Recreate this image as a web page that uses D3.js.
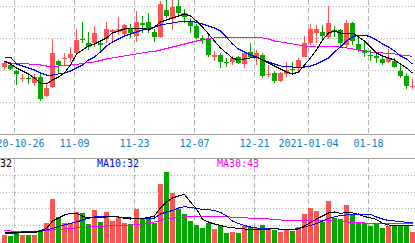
<!DOCTYPE html>
<html>
<head>
<meta charset="utf-8">
<script src="https://cdn.jsdelivr.net/npm/d3@7"></script>
<style>
html, body { margin: 0; padding: 0; background: #fff; overflow: hidden; }
svg { display: block; font-family: "DejaVu Sans Mono", monospace; }
</style>
</head>
<body>
<svg id="chart" width="415" height="243"></svg>
<script>
// trading days shown in the window
const dates = [
    "2020-10-22","2020-10-23","2020-10-26","2020-10-27","2020-10-28","2020-10-29","2020-10-30",
    "2020-11-02","2020-11-03","2020-11-04","2020-11-05","2020-11-06",
    "2020-11-09","2020-11-10","2020-11-11","2020-11-12","2020-11-13",
    "2020-11-16","2020-11-17","2020-11-18","2020-11-19","2020-11-20",
    "2020-11-23","2020-11-24","2020-11-25","2020-11-26","2020-11-27",
    "2020-11-30","2020-12-01","2020-12-02","2020-12-03","2020-12-04",
    "2020-12-07","2020-12-08","2020-12-09","2020-12-10","2020-12-11",
    "2020-12-14","2020-12-15","2020-12-16","2020-12-17","2020-12-18",
    "2020-12-21","2020-12-22","2020-12-23","2020-12-24","2020-12-25",
    "2020-12-28","2020-12-29","2020-12-30","2020-12-31",
    "2021-01-04","2021-01-05","2021-01-06","2021-01-07","2021-01-08",
    "2021-01-11","2021-01-12","2021-01-13","2021-01-14","2021-01-15",
    "2021-01-18","2021-01-19","2021-01-20","2021-01-21","2021-01-22",
    "2021-01-25","2021-01-26","2021-01-27"
];

const open = [
    13.3,13.5,12.9,12.2,12.25,11.7,12.3,10.4,11.3,13.9,
    14.1,14.2,14.7,16.15,15.7,15.7,15.7,16.1,16.8,16.8,
    16.6,17.1,16.4,17.7,17.8,16.8,16.3,19.0,18.1,19.4,
    18.7,17.9,17.4,16.2,16.2,14.3,14.5,13.85,13.8,14.3,
    13.6,14.8,14.3,14.5,12.5,12.7,11.9,12.6,13.1,13.2,
    14.3,15.7,16.7,16.8,16.3,17.0,17.0,15.5,17.7,15.6,
    15.0,14.55,14.4,14.1,13.8,13.9,12.9,12.4,11.4
];
const high = [
    13.9,13.6,13.0,12.6,12.5,12.6,12.6,11.8,16.1,14.0,
    14.7,15.3,17.1,17.8,16.8,17.4,16.0,17.8,17.1,18.3,
    17.6,17.6,18.9,18.4,18.7,17.1,19.9,20.2,20.2,20.2,
    19.1,18.2,17.6,16.5,16.5,14.9,14.7,14.2,14.4,14.4,
    14.8,15.7,15.0,14.7,13.5,12.9,12.8,13.8,13.8,14.2,
    16.4,17.6,17.5,17.5,19.4,17.4,17.1,18.0,17.8,16.2,
    15.8,15.0,14.7,14.4,15.1,14.2,13.6,12.7,12.1
];
const low = [
    13.0,13.0,11.5,11.8,11.6,11.4,9.9,10.3,11.2,12.7,
    13.5,13.8,14.6,15.7,15.0,15.3,14.9,15.7,15.8,16.5,
    16.4,16.2,15.8,16.7,16.7,15.8,16.2,18.2,17.0,18.3,
    17.7,16.7,16.1,15.6,14.3,13.9,13.2,13.3,13.5,13.6,
    13.2,14.2,13.5,12.2,12.3,11.7,11.8,12.2,12.7,12.8,
    14.3,15.5,15.7,16.0,16.1,16.3,15.4,15.3,15.5,14.8,
    14.3,13.9,13.7,13.5,13.7,13.2,12.2,11.1,11.1
];
const close = [
    13.7,13.1,12.6,12.25,12.2,12.3,10.1,11.2,14.7,13.5,
    14.2,14.6,16.0,16.1,15.3,16.7,15.5,17.1,17.0,17.1,
    17.5,16.7,17.8,17.5,17.1,16.3,19.6,18.4,19.3,18.7,
    18.3,17.4,16.2,16.0,14.5,14.5,13.8,13.8,14.2,13.7,
    14.7,14.3,14.7,12.4,12.6,11.9,12.7,13.0,13.0,14.0,
    15.7,17.1,17.1,16.4,17.7,16.8,15.7,17.7,15.9,15.0,
    14.7,14.5,14.2,13.7,14.2,13.3,12.4,11.4,11.45
];

// price moving averages
const ma5 = [
    13.9,13.6,13.2,12.9,12.6,12.2,11.7,11.6,12.0,12.3,
    12.7,13.5,14.6,15.0,15.4,15.6,15.9,16.2,16.7,16.9,
    17.1,17.2,17.2,17.2,17.0,17.3,17.8,18.0,18.2,18.4,
    18.6,18.4,17.9,17.3,16.6,15.9,15.2,14.7,14.2,14.0,
    14.1,14.2,14.3,14.0,13.7,13.4,13.1,12.8,12.6,12.8,
    13.5,14.2,15.0,16.0,16.7,16.9,16.7,16.7,16.7,16.3,
    15.9,15.3,14.7,14.4,14.2,14.0,13.6,13.2,12.7
];
const ma10 = [
    14.3,14.3,13.6,13.4,13.2,13.0,12.7,12.5,12.5,12.6,
    12.7,12.9,13.2,13.5,14.0,14.3,14.8,15.4,15.8,16.1,
    16.4,16.6,16.8,17.0,17.1,17.3,17.5,17.6,17.7,17.8,
    17.85,17.9,17.75,17.6,17.4,17.2,16.9,16.3,15.6,15.1,
    14.8,14.5,14.3,14.0,13.8,13.6,13.4,13.35,13.3,13.3,
    13.3,13.4,13.6,13.9,14.2,14.8,15.3,15.9,16.3,16.5,
    16.5,16.3,16.0,15.6,15.3,14.9,14.4,14.1,13.6
];
const ma30 = [
    13.8,13.7,13.7,13.7,13.6,13.55,13.5,13.4,13.4,13.4,
    13.45,13.5,13.55,13.65,13.75,13.8,13.95,14.1,14.2,14.3,
    14.4,14.5,14.6,14.7,14.8,14.85,15.0,15.15,15.3,15.45,
    15.6,15.75,15.9,16.0,16.15,16.2,16.25,16.3,16.3,16.3,
    16.3,16.3,16.3,16.2,16.1,15.9,15.8,15.7,15.6,15.5,
    15.4,15.35,15.4,15.4,15.4,15.35,15.3,15.2,15.1,15.0,
    14.85,14.8,14.75,14.7,14.65,14.6,14.5,14.45,14.35
];

const volume = [
    28.0,26.8,32.8,28.0,28.0,28.0,34.0,42.8,71.2,49.6,
    42.8,42.8,55.6,54.8,41.2,58.0,44.0,55.6,45.2,50.0,
    42.8,41.2,59.2,47.2,47.2,42.4,89.2,103.6,78.4,59.2,
    53.2,45.2,40.0,36.8,42.4,35.2,40.0,30.8,32.0,30.8,
    38.8,37.2,36.0,40.0,36.0,34.0,32.0,34.0,33.2,37.2,
    53.2,60.8,56.8,44.0,69.2,48.0,46.8,64.0,52.8,42.0,
    42.0,38.8,42.0,36.8,38.8,40.0,38.8,38.8,32.0
];
const volMa5 = [
    31.6,30.8,30.8,30.8,30.8,30.8,33.2,35.8,44.8,48.4,
    52.0,54.0,54.0,50.8,48.0,49.2,49.2,49.6,50.0,49.6,
    48.0,47.2,48.0,48.0,49.0,50.8,60.4,67.6,72.4,74.8,
    76.6,67.6,59.2,46.8,43.6,41.2,39.4,37.6,36.8,35.8,
    35.2,34.6,34.0,34.4,34.8,36.0,34.6,34.0,34.0,35.2,
    38.8,43.0,47.2,50.8,54.4,55.6,54.0,54.8,54.4,52.6,
    50.2,48.4,46.6,42.0,40.0,39.2,39.2,39.2,39.2
];
const volMa10 = [
    30.4,29.2,30.4,32.0,32.0,32.0,32.2,34.0,35.8,38.2,
    40.0,41.8,43.6,46.0,48.4,49.6,50.6,50.4,50.0,49.6,
    49.0,48.4,48.0,47.6,47.2,48.4,53.2,55.6,57.4,60.4,
    62.0,61.0,59.8,58.8,58.4,57.4,55.0,50.8,44.8,41.8,
    39.4,37.6,36.4,36.0,36.0,36.0,34.8,34.0,34.6,35.8,
    37.6,39.4,41.8,44.8,47.8,49.6,51.4,52.0,52.8,53.2,
    53.0,52.6,49.6,47.2,45.4,44.8,44.0,43.2,42.4
];
const volMa30 = [
    33.2,32.8,32.4,32.0,32.0,32.0,32.2,33.4,34.0,34.6,
    35.2,35.8,36.4,37.0,37.6,38.0,38.4,38.8,39.0,39.2,
    39.4,39.8,40.6,41.4,42.4,43.6,45.4,46.8,47.8,49.0,
    49.8,50.0,50.0,50.0,50.0,50.0,50.0,49.8,49.4,49.0,
    48.6,48.2,47.8,47.4,47.2,46.8,46.0,45.2,44.8,44.8,
    44.8,44.8,45.4,45.8,45.4,44.6,44.0,43.6,43.0,42.6,
    42.4,42.0,42.0,42.0,42.0,42.0,42.0,42.0,42.0
];

// date axis ticks
const tickDates = ["2020-10-26","2020-11-09","2020-11-23","2020-12-07","2020-12-21","2021-01-04","2021-01-18"];
const tickLabels = ["2020-10-26","11-09","11-23","12-07","12-21","2021-01-04","01-18"];

// legend text of the volume pane
const volLegend = [
    { text: "MA5:32", x: -24, color: "#000000" },
    { text: "MA10:32", x: 97, color: "#0000ff" },
    { text: "MA30:43", x: 217, color: "#ff00ff" }
];

const RED = "#ff5454", GREEN = "#00a800";
const GRID = "#b4b4b4";

const svg = d3.select("#chart");

const x = d3.scalePoint().domain(dates).range([4.5, 412.5]);
const y = d3.scaleLinear().domain([6.6, 19.4]).range([134, 6]);
const yv = d3.scaleLinear().domain([0, 100]).range([258.33, 175]);

const candles = dates.map((d, i) => ({
    date: d, o: open[i], h: high[i], l: low[i], c: close[i], v: volume[i],
    up: close[i] >= open[i]
}));

// price grid (dotted)
svg.append("g")
    .selectAll("line")
    .data(d3.range(4).map(k => 19.4 - k * 3.2))
    .join("line")
    .attr("x1", 0).attr("x2", 415)
    .attr("y1", d => Math.round(y(d)) + 0.5)
    .attr("y2", d => Math.round(y(d)) + 0.5)
    .attr("stroke", GRID)
    .attr("stroke-dasharray", "1,2");

// volume grid (dotted)
svg.append("g")
    .selectAll("line")
    .data([20, 40, 60, 80, 100])
    .join("line")
    .attr("x1", 0).attr("x2", 415)
    .attr("y1", d => Math.round(yv(d)) + 0.5)
    .attr("y2", d => Math.round(yv(d)) + 0.5)
    .attr("stroke", GRID)
    .attr("stroke-dasharray", "1,2");

// vertical dashed lines at the date ticks, in both panes
const vg = svg.append("g");
[[0, 134], [159, 243]].forEach(function(r) {
    vg.append("g")
        .selectAll("line")
        .data(tickDates)
        .join("line")
        .attr("x1", d => x(d) - 2)
        .attr("x2", d => x(d) - 2)
        .attr("y1", r[0]).attr("y2", r[1])
        .attr("stroke", GRID)
        .attr("stroke-dasharray", "5,3");
});

// pane borders
svg.append("line").attr("x1", 0).attr("x2", 415).attr("y1", 134.5).attr("y2", 134.5)
    .attr("stroke", "#a0a0a0");
svg.append("line").attr("x1", 0).attr("x2", 415).attr("y1", 158.5).attr("y2", 158.5)
    .attr("stroke", "#a0a0a0");

// date labels
svg.append("g")
    .selectAll("text")
    .data(tickDates)
    .join("text")
    .attr("x", d => x(d) - 2)
    .attr("y", 147)
    .attr("text-anchor", "middle")
    .attr("font-size", "10px")
    .attr("fill", "#0a80c8")
    .text((d, i) => tickLabels[i]);

// candles
const cg = svg.append("g").attr("shape-rendering", "crispEdges");
cg.selectAll("line")
    .data(candles)
    .join("line")
    .attr("x1", d => x(d.date))
    .attr("x2", d => x(d.date))
    .attr("y1", d => y(d.h))
    .attr("y2", d => y(d.l))
    .attr("stroke", d => d.up ? RED : GREEN);
cg.selectAll("rect")
    .data(candles)
    .join("rect")
    .attr("x", d => x(d.date) - 2.5)
    .attr("width", 5)
    .attr("y", d => y(Math.max(d.o, d.c)))
    .attr("height", d => Math.max(1, Math.abs(y(d.o) - y(d.c))))
    .attr("fill", d => d.up ? RED : GREEN);

// moving average lines
function maLine(values, scale, color) {
    svg.append("path")
        .datum(values)
        .attr("d", d3.line().x((v, i) => x(dates[i])).y(v => scale(v)))
        .attr("fill", "none")
        .attr("stroke", color)
        .attr("stroke-width", 1)
        .attr("shape-rendering", "crispEdges");
}
maLine(ma30, y, "#ff00ff");
maLine(ma10, y, "#0000ff");
maLine(ma5, y, "#000000");

// volume bars
svg.append("g").attr("shape-rendering", "crispEdges")
    .selectAll("rect")
    .data(candles)
    .join("rect")
    .attr("x", d => x(d.date) - 2.5)
    .attr("width", 5)
    .attr("y", d => yv(d.v))
    .attr("height", d => yv(0) - yv(d.v))
    .attr("fill", d => d.up ? RED : GREEN);

maLine(volMa30, yv, "#ff00ff");
maLine(volMa10, yv, "#0000ff");
maLine(volMa5, yv, "#000000");

// volume legend
svg.append("g")
    .selectAll("text")
    .data(volLegend)
    .join("text")
    .attr("x", d => d.x)
    .attr("y", 167)
    .attr("font-size", "10px")
    .attr("fill", d => d.color)
    .text(d => d.text);
</script>
</body>
</html>
